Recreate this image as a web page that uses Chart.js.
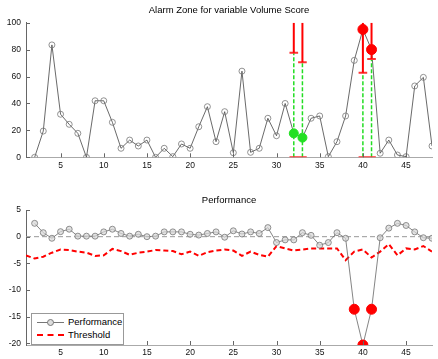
<!DOCTYPE html>
<html>
<head>
    <meta charset="utf-8">
    <script src="https://cdn.jsdelivr.net/npm/chart.js/dist/chart.umd.min.js"></script>
    <style>
        body { margin: 0; background: #fff; }
        #wrap { position: relative; width: 438px; height: 359px; font-family: "Liberation Sans", Arial, sans-serif; }
        #chartTop { position: absolute; left: 0; top: 0; }
        #chartBot { position: absolute; left: 0; top: 189px; }
        .legend {
            position: absolute; left: 31px; top: 313px; width: 91px; height: 30px;
            border: 1px solid #999; background: #fff; font-size: 9.5px; color: #000;
        }
        .row { position: absolute; left: 0; height: 12px; line-height: 12px; }
        .row span.txt { position: absolute; left: 36px; white-space: nowrap; }
        .sample { position: absolute; left: 5px; width: 27px; top: 6px; }
        .perf { border-top: 1px solid #777; }
        .perf i { position: absolute; left: 10px; top: -4px; width: 5px; height: 5px; border: 1px solid #777; border-radius: 50%; background: #ddd; }
        .thr { border-top: 2px dashed #f00; top: 5px; }
    </style>
</head>
<body>
<div id="wrap">
    <canvas id="chartTop" width="438" height="178"></canvas>
    <canvas id="chartBot" width="438" height="170"></canvas>
    <!-- leyenda del grafico de abajo -->
    <div class="legend">
        <div class="row" style="top:2px"><div class="sample perf"><i></i></div><span class="txt">Performance</span></div>
        <div class="row" style="top:15px"><div class="sample thr"></div><span class="txt">Threshold</span></div>
    </div>
</div>
<script>
    Chart.defaults.font.family = '"Liberation Sans", Arial, sans-serif';

    // Datos
    const days = [2,3,4,5,6,7,8,9,10,11,12,13,14,15,16,17,18,19,20,21,22,23,24,25,26,27,28,29,30,31,32,33,34,35,36,37,38,39,40,41,42,43,44,45,46,47,48];
    const volumeScore = [0,19.5,83.5,32,24.5,17.8,0,42,42,26,6.7,12.8,8.4,12.8,0,6.7,0.5,9.9,6.7,22.7,37.6,11.6,33.9,3.4,64,3.7,6.7,29,16,40,17.8,14.6,29,30.7,0.5,11.6,30.7,72,95,80,3,12.8,1.7,0.5,53,59.4,8.4];
    const performance = [2.5,0.75,-0.3,0.94,1.4,0.1,0.1,0.1,0.9,1.4,0.6,0.1,0.45,0,0.1,0.9,0.9,0.9,0.45,0.3,0.6,0.9,-0.1,1.1,0.5,0.9,0.6,1.7,-1.1,-0.6,-0.6,0.75,0.25,-1.6,-1.1,0.75,-0.3,-13.6,-20.3,-13.6,-0.2,1.6,2.5,2.1,0.9,-0.2,-0.3];
    const thrDays = [1,2,3,4,5,6,7,8,9,10,11,12,13,14,15,16,17,18,19,20,21,22,23,24,25,26,27,28,29,30,31,32,33,34,35,36,37,38,39,40,41,42,43,44,45,46,47,48];
    const threshold = [-3.5,-4.1,-3.75,-3.0,-2.4,-2.5,-2.8,-3.0,-3.6,-3.5,-2.3,-2.7,-3.4,-3.0,-2.8,-2.5,-2.6,-2.7,-3.3,-2.8,-3.6,-2.9,-2.6,-2.4,-2.6,-3.6,-2.8,-3.4,-3.75,-1.75,-2.2,-2.6,-2.4,-2.2,-2.2,-2.2,-2.2,-4.4,-2.8,-2.4,-3.9,-2.8,-1.4,-3.5,-2.2,-2.4,-1.75,-2.8];

    // zonas de alarma
    const alarmDays = [32,33,40,41];
    const alarmCap = [77.7,70.7,62.8,73];
    const greenDays = [32,33];
    const redDaysTop = [40,41];
    const redDaysBot = [39,40,41];

    const xTicks = [5,10,15,20,25,30,35,40,45];
    const yTicksTop = [0,20,40,60,80,100];
    const yTicksBot = [-20,-15,-10,-5,0,5];

    const tickFont = { size: 8.5 };

    function pts(xs, ys) {
        return xs.map((x, i) => ({ x: x, y: ys[i] }));
    }
    function pick(list) {
        return list.map(d => ({ x: d, y: this[days.indexOf(d)] }));
    }
    // segmentos separados por null
    function segs(list) {
        const out = [];
        list.forEach(s => { out.push(s[0], s[1], { x: s[1].x, y: null }); });
        return out;
    }

    const redLines = segs(alarmDays.map((d, i) => [{ x: d, y: 100 }, { x: d, y: alarmCap[i] }]));
    const greenLines = segs(alarmDays.map((d, i) => [{ x: d, y: 0 }, { x: d, y: alarmCap[i] }]));
    const caps = segs(alarmDays.map((d, i) => [{ x: d - 0.5, y: alarmCap[i] }, { x: d + 0.5, y: alarmCap[i] }])
        .concat(alarmDays.map(d => [{ x: d - 0.5, y: 0 }, { x: d + 0.5, y: 0 }])));

    // ticks hacia adentro, estilo matlab
    const inTicks = {
        id: 'inTicks',
        afterDraw(chart) {
            const { ctx, chartArea: a, scales: { x, y } } = chart;
            ctx.save();
            ctx.strokeStyle = '#666';
            ctx.lineWidth = 1;
            ctx.beginPath();
            x.ticks.forEach(t => {
                const px = Math.round(x.getPixelForValue(t.value)) + 0.5;
                ctx.moveTo(px, a.bottom); ctx.lineTo(px, a.bottom - 4);
            });
            y.ticks.forEach(t => {
                const py = Math.round(y.getPixelForValue(t.value)) + 0.5;
                ctx.moveTo(a.left, py); ctx.lineTo(a.left + 4, py);
            });
            ctx.stroke();
            ctx.restore();
        }
    };

    function scalesFor(yMin, yMax, yTicks, xHeight) {
        return {
            x: {
                type: 'linear', min: 1, max: 48,
                afterBuildTicks: s => { s.ticks = xTicks.map(v => ({ value: v })); },
                afterFit: s => { s.height = xHeight; },
                grid: { drawOnChartArea: false, drawTicks: false },
                border: { color: '#aaa' },
                ticks: { padding: 3, font: tickFont, color: '#111', maxRotation: 0 }
            },
            y: {
                min: yMin, max: yMax,
                afterBuildTicks: s => { s.ticks = yTicks.map(v => ({ value: v })); },
                afterFit: s => { s.width = 26; },
                grid: { drawOnChartArea: false, drawTicks: false },
                border: { color: '#666' },
                ticks: { padding: 5, font: tickFont, color: '#111' }
            }
        };
    }

    const commonLine = { showLine: true, pointRadius: 0, fill: false, tension: 0 };

    // el primer dataset se dibuja encima
    const chartTop = new Chart(document.getElementById('chartTop'), {
        type: 'scatter',
        data: {
            datasets: [
                { data: pick.call(volumeScore, redDaysTop), pointRadius: 5, pointBackgroundColor: '#ff0000', pointBorderColor: '#ff0000' },
                { data: pick.call(volumeScore, greenDays), pointRadius: 4.5, pointBackgroundColor: '#22e022', pointBorderColor: '#22e022' },
                Object.assign({ data: redLines, borderColor: '#ff0000', borderWidth: 2 }, commonLine),
                Object.assign({ data: caps, borderColor: '#ff3333', borderWidth: 2 }, commonLine),
                Object.assign({ data: greenLines, borderColor: '#22dd22', borderWidth: 1.5, borderDash: [4, 2] }, commonLine),
                {
                    data: pts(days, volumeScore), showLine: true, borderColor: '#444', borderWidth: 0.8,
                    pointRadius: 3, pointBorderColor: '#777', pointBackgroundColor: 'rgba(255,255,255,0)', pointBorderWidth: 0.8
                }
            ]
        },
        plugins: [inTicks],
        options: {
            responsive: false,
            animation: false,
            layout: { padding: { top: 0, left: 0, right: 2, bottom: 0 } },
            plugins: {
                legend: { display: false },
                tooltip: { enabled: false },
                title: {
                    display: true, text: 'Alarm Zone for variable Volume Score', fullSize: false,
                    color: '#000', font: { size: 9.5, weight: 'normal' }, padding: { top: 5, bottom: 6.3 }
                }
            },
            scales: scalesFor(0, 100, yTicksTop, 20.7)
        }
    });

    const chartBot = new Chart(document.getElementById('chartBot'), {
        type: 'scatter',
        data: {
            datasets: [
                { data: pick.call(performance, redDaysBot), pointRadius: 5, pointBackgroundColor: '#ff0000', pointBorderColor: '#ff0000' },
                {
                    data: pts(days, performance), showLine: true, borderColor: '#666', borderWidth: 0.8,
                    pointRadius: 3, pointBorderColor: '#777', pointBackgroundColor: 'rgba(215,215,215,0.7)', pointBorderWidth: 0.8
                },
                Object.assign({ data: pts(thrDays, threshold), borderColor: '#ff0000', borderWidth: 2, borderDash: [5, 3] }, commonLine),
                Object.assign({ data: [{ x: 1, y: 0 }, { x: 48, y: 0 }], borderColor: '#999', borderWidth: 1, borderDash: [5, 3] }, commonLine)
            ]
        },
        plugins: [inTicks],
        options: {
            responsive: false,
            animation: false,
            layout: { padding: { top: 0, left: 0, right: 2, bottom: 0 } },
            plugins: {
                legend: { display: false },
                tooltip: { enabled: false },
                title: {
                    display: true, text: 'Performance', fullSize: false,
                    color: '#000', font: { size: 9.5, weight: 'normal' }, padding: { top: 5.5, bottom: 4.1 }
                }
            },
            scales: scalesFor(-20.3, 5, yTicksBot, 14)
        }
    });
</script>
</body>
</html>
